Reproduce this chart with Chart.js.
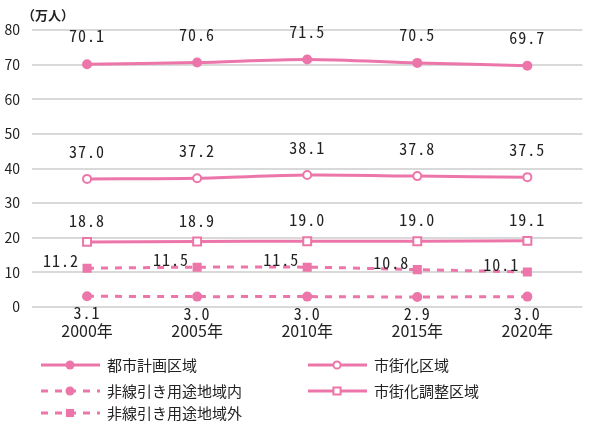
<!DOCTYPE html>
<html lang="ja">
<head>
<meta charset="utf-8">
<script src="https://cdn.jsdelivr.net/npm/chart.js@4/dist/chart.umd.min.js"></script>
<style>
  html, body { margin: 0; padding: 0; background: #fff; }
  #wrap { width: 590px; height: 425px; position: relative; }
</style>
</head>
<body>
<div id="wrap"><canvas id="c" width="590" height="425"></canvas></div>
<script>
// 区域別人口の推移（万人）
const years = ['2000年', '2005年', '2010年', '2015年', '2020年'];
const yTicks = [0, 10, 20, 30, 40, 50, 60, 70, 80];
const unitLabel = '（万人）';

const toshiKeikaku = [70.1, 70.6, 71.5, 70.5, 69.7];     // 都市計画区域
const shigaika = [37.0, 37.2, 38.1, 37.8, 37.5];         // 市街化区域
const chosei = [18.8, 18.9, 19.0, 19.0, 19.1];           // 市街化調整区域
const hisenbikiGai = [11.2, 11.5, 11.5, 10.8, 10.1];     // 非線引き用途地域外
const hisenbikiNai = [3.1, 3.0, 3.0, 2.9, 3.0];          // 非線引き用途地域内

const PINK = '#ec76a9';
const TEXT = '#222222';
const FONT = '"Noto Sans CJK JP", "Noto Sans", sans-serif';
const MONO = '"Noto Sans Mono CJK JP", "DejaVu Sans Mono", monospace';

function fmt(v) { return v.toFixed(1); }

const datasets = [
  { label: '都市計画区域', data: toshiKeikaku, borderDash: [], pointStyle: 'circle', pointRadius: 5,
    pointBackgroundColor: PINK, pointBorderWidth: 0, lbl: { dx: 0, dy: -28, align: 'center' } },
  { label: '市街化区域', data: shigaika, borderDash: [], pointStyle: 'circle', pointRadius: 4,
    pointBackgroundColor: '#ffffff', pointBorderWidth: 2, lbl: { dx: 0, dy: -27, align: 'center' } },
  { label: '市街化調整区域', data: chosei, borderDash: [], pointStyle: 'rect', pointRadius: 5.6,
    pointBackgroundColor: '#ffffff', pointBorderWidth: 2, lbl: { dx: 0, dy: -21, align: 'center' } },
  { label: '非線引き用途地域外', data: hisenbikiGai, borderDash: [7, 7], pointStyle: 'rect', pointRadius: 6.4,
    pointBackgroundColor: PINK, pointBorderWidth: 0, lbl: { dx: -8, dy: -7, align: 'right' } },
  { label: '非線引き用途地域内', data: hisenbikiNai, borderDash: [7, 7], pointStyle: 'circle', pointRadius: 5,
    pointBackgroundColor: PINK, pointBorderWidth: 0, lbl: { dx: 0, dy: 17, align: 'center' } }
].map(d => Object.assign({
  borderColor: PINK, pointBorderColor: PINK, borderWidth: 3, tension: 0.3,
  pointHoverRadius: d.pointRadius, fill: false
}, d));

// 値ラベル
const valueLabels = {
  id: 'valueLabels',
  afterDatasetsDraw(chart) {
    const ctx = chart.ctx;
    ctx.save();
    ctx.font = '16px ' + MONO;
    ctx.letterSpacing = '1px';
    ctx.fillStyle = TEXT;
    ctx.textBaseline = 'middle';
    chart.data.datasets.forEach((ds, i) => {
      const meta = chart.getDatasetMeta(i);
      meta.data.forEach((pt, j) => {
        ctx.textAlign = ds.lbl.align;
        ctx.fillText(fmt(ds.data[j]), pt.x + ds.lbl.dx, pt.y + ds.lbl.dy);
      });
    });
    ctx.restore();
  }
};

// 単位と凡例
const extras = {
  id: 'extras',
  afterDraw(chart) {
    const ctx = chart.ctx;
    ctx.save();
    ctx.font = 'bold 13px ' + FONT;
    ctx.fillStyle = TEXT;
    ctx.textAlign = 'left';
    ctx.textBaseline = 'middle';
    ctx.fillText(unitLabel, 22, 15);

    const cols = [
      { x: 41, items: [0, 4, 3] },
      { x: 308, items: [1, 2] }
    ];
    const rows = [365, 391, 413];
    ctx.font = '15px ' + FONT;
    cols.forEach(col => {
      col.items.forEach((idx, r) => {
        const ds = chart.data.datasets[idx];
        const y = rows[r];
        ctx.strokeStyle = PINK;
        ctx.lineWidth = 3;
        ctx.setLineDash(ds.borderDash);
        ctx.beginPath();
        ctx.moveTo(col.x, y);
        ctx.lineTo(col.x + 59, y);
        ctx.stroke();
        ctx.setLineDash([]);
        ctx.fillStyle = ds.pointBackgroundColor;
        ctx.strokeStyle = PINK;
        ctx.lineWidth = ds.pointBorderWidth;
        Chart.helpers.drawPoint(ctx, {
          pointStyle: ds.pointStyle, radius: ds.pointRadius * 0.9, rotation: 0,
          borderWidth: ds.pointBorderWidth
        }, col.x + 29, y);
        ctx.fillStyle = TEXT;
        ctx.fillText(ds.label, col.x + 66, y);
      });
    });
    ctx.restore();
  }
};

new Chart(document.getElementById('c'), {
  type: 'line',
  data: { labels: years, datasets },
  options: {
    responsive: false,
    animation: false,
    events: [],
    layout: { padding: { top: 30, left: 0, right: 5, bottom: 78 } },
    plugins: { legend: { display: false }, tooltip: { enabled: false } },
    scales: {
      x: {
        offset: true,
        grid: { display: false, drawTicks: false },
        border: { display: false },
        ticks: { color: TEXT, font: { family: FONT, size: 16 }, padding: 14, maxRotation: 0 },
        afterFit(s) { s.height = 40; }
      },
      y: {
        min: 0, max: 80,
        afterBuildTicks(s) { s.ticks = yTicks.map(v => ({ value: v })); },
        grid: { color: '#d9d9d9', lineWidth: 2, drawTicks: false },
        border: { display: false },
        ticks: { color: TEXT, font: { family: FONT, size: 14 }, padding: 12 },
        afterFit(s) { s.width = 32; }
      }
    }
  },
  plugins: [valueLabels, extras]
});
</script>
</body>
</html>
